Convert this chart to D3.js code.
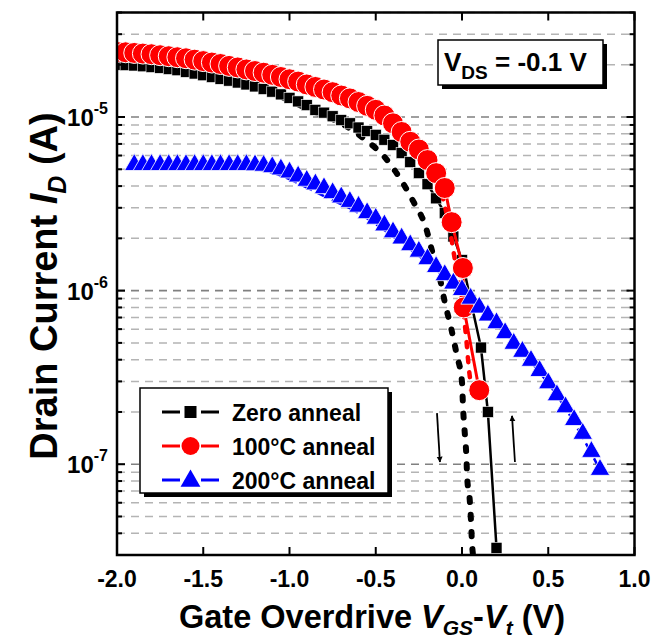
<!DOCTYPE html>
<html><head><meta charset="utf-8">
<script src="https://cdn.jsdelivr.net/npm/d3@7/dist/d3.min.js"></script>
<style>body{margin:0;background:#fff}svg{display:block}text{font-family:"Liberation Sans",Arial,sans-serif;font-weight:bold}</style>
</head><body><svg id="c" width="651" height="640"></svg>
<script>
// ---- data ----
const xTicks = [-2.0, -1.5, -1.0, -0.5, 0.0, 0.5, 1.0];
const xTickLabels = ["-2.0", "-1.5", "-1.0", "-0.5", "0.0", "0.5", "1.0"];
const yMajor = [1e-5, 1e-6, 1e-7];
const yMajorExp = ["-5", "-6", "-7"];

// Zero anneal (squares, forward sweep)
const zeroX = [-2.00,-1.95,-1.90,-1.85,-1.80,-1.75,-1.70,-1.65,-1.60,-1.55,-1.50,-1.45,-1.40,-1.35,-1.30,-1.25,-1.20,-1.15,-1.10,-1.05,-1.00,-0.95,-0.90,-0.85,-0.80,-0.75,-0.70,-0.65,-0.60,-0.55,-0.50,-0.45,-0.40,-0.35,-0.30,-0.25,-0.20,-0.15,-0.10,-0.05,0.00,0.05,0.11,0.15,0.20];
const zeroY = [2.00e-5,1.99e-5,1.98e-5,1.96e-5,1.94e-5,1.92e-5,1.89e-5,1.86e-5,1.82e-5,1.78e-5,1.74e-5,1.70e-5,1.66e-5,1.62e-5,1.58e-5,1.54e-5,1.50e-5,1.45e-5,1.40e-5,1.35e-5,1.29e-5,1.23e-5,1.17e-5,1.10e-5,1.06e-5,1.01e-5,9.6e-6,9.2e-6,8.7e-6,8.3e-6,7.9e-6,7.4e-6,6.9e-6,6.2e-6,5.5e-6,4.75e-6,4.1e-6,3.4e-6,2.8e-6,2.05e-6,1.5e-6,8.8e-7,4.7e-7,2.0e-7,3.3e-8];
// Zero anneal reverse sweep (dashed)
const zeroRevX = [-2.00,-1.50,-1.11,-0.98,-0.835,-0.70,-0.56,-0.45,-0.35,-0.28,-0.21,-0.17,-0.13,-0.10,-0.06,-0.03,0.00,0.006,0.017,0.025,0.030,0.045,0.052,0.058,0.064];
const zeroRevY = [2.0e-5,1.74e-5,1.39e-5,1.22e-5,1.05e-5,9.2e-6,7.4e-6,5.9e-6,4.28e-6,3.23e-6,2.32e-6,1.64e-6,1.2e-6,8.6e-7,5.9e-7,4.25e-7,2.97e-7,2.13e-7,1.47e-7,1.13e-7,8.4e-8,6.2e-8,4.75e-8,3.5e-8,3.0e-8];

// 100C anneal (circles)
const c100X = [-2.00,-1.95,-1.90,-1.85,-1.80,-1.75,-1.70,-1.65,-1.60,-1.55,-1.50,-1.45,-1.40,-1.35,-1.30,-1.25,-1.20,-1.15,-1.10,-1.05,-1.00,-0.95,-0.90,-0.85,-0.80,-0.75,-0.70,-0.65,-0.60,-0.55,-0.50,-0.45,-0.40,-0.35,-0.30,-0.25,-0.20,-0.15,-0.10,-0.06,0.005,0.01,0.10];
const c100Y = [2.37e-5,2.36e-5,2.34e-5,2.32e-5,2.30e-5,2.27e-5,2.24e-5,2.21e-5,2.18e-5,2.14e-5,2.10e-5,2.06e-5,2.02e-5,1.97e-5,1.93e-5,1.88e-5,1.84e-5,1.80e-5,1.75e-5,1.70e-5,1.65e-5,1.60e-5,1.54e-5,1.49e-5,1.44e-5,1.39e-5,1.33e-5,1.28e-5,1.22e-5,1.16e-5,1.10e-5,1.02e-5,9.2e-6,8.2e-6,7.2e-6,6.5e-6,5.65e-6,4.75e-6,3.9e-6,2.48e-6,1.35e-6,8.0e-7,2.67e-7];
const c100RevX = [-2.00,-1.00,-0.50,-0.30,-0.15,-0.07,-0.041,0.00,0.023,0.041,0.052];
const c100RevY = [2.3e-5,1.6e-5,1.07e-5,7.0e-6,4.5e-6,2.23e-6,1.5e-6,8.8e-7,5.5e-7,3.48e-7,2.85e-7];

// 200C anneal (triangles)
const c200X = [-1.90,-1.85,-1.80,-1.75,-1.70,-1.65,-1.60,-1.55,-1.50,-1.45,-1.40,-1.35,-1.30,-1.25,-1.20,-1.15,-1.10,-1.05,-1.00,-0.95,-0.90,-0.85,-0.80,-0.75,-0.70,-0.65,-0.60,-0.55,-0.50,-0.45,-0.40,-0.35,-0.30,-0.25,-0.20,-0.15,-0.10,-0.05,0.00,0.05,0.10,0.15,0.20,0.25,0.30,0.35,0.40,0.45,0.50,0.55,0.60,0.65,0.70,0.75,0.80];
const c200Y = [5.3e-6,5.3e-6,5.3e-6,5.3e-6,5.3e-6,5.3e-6,5.3e-6,5.3e-6,5.3e-6,5.3e-6,5.3e-6,5.3e-6,5.3e-6,5.3e-6,5.28e-6,5.25e-6,5.15e-6,5.0e-6,4.8e-6,4.55e-6,4.3e-6,4.1e-6,3.9e-6,3.65e-6,3.45e-6,3.25e-6,3.05e-6,2.8e-6,2.6e-6,2.38e-6,2.17e-6,2.0e-6,1.83e-6,1.68e-6,1.52e-6,1.37e-6,1.23e-6,1.1e-6,1.01e-6,9.0e-7,8.0e-7,7.2e-7,6.5e-7,5.7e-7,4.95e-7,4.45e-7,3.95e-7,3.45e-7,2.93e-7,2.5e-7,2.13e-7,1.8e-7,1.5e-7,1.18e-7,9.3e-8];
const c200RevX = [-1.90,-1.20,-1.05,-0.95,-0.80,-0.60,-0.40,-0.20,0.00,0.20,0.40,0.60,0.80];
const c200RevY = [5.3e-6,5.0e-6,4.6e-6,4.15e-6,3.5e-6,2.8e-6,2.05e-6,1.45e-6,9.8e-7,6.4e-7,3.9e-7,2.1e-7,9.3e-8];

const legendNames = ["Zero anneal", "100°C anneal", "200°C anneal"];
const colors = ["#000000", "#ff0000", "#0000ff"];
// sweep-direction arrows [x1,y1,x2,y2] in data units
const arrowsData = [[-0.145, 1.97e-7, -0.128, 1.03e-7], [0.307, 1.03e-7, 0.29, 1.9e-7]];

// ---- chart ----
const svg = d3.select("#c");
const L = 117, R = 634.5, T = 12.5, B = 555;
const x = d3.scaleLinear().domain([-2, 1]).range([L, R]);
const y = d3.scaleLog().domain([3e-8, 4e-5]).range([B, T]);

const minors = [];
for (let e = -8; e <= -5; e++) for (let m = 2; m <= 9; m++) { const v = m * Math.pow(10, e); if (v >= 3e-8 && v <= 4e-5) minors.push(v); }

// gridlines
const grid = svg.append("g");
grid.selectAll("line.mi").data(minors).join("line")
  .attr("x1", L).attr("x2", R).attr("y1", d => y(d)).attr("y2", d => y(d))
  .attr("stroke", "#b4b4b4").attr("stroke-width", 1.5).attr("stroke-dasharray", "8,6");
grid.selectAll("line.ma").data(yMajor).join("line")
  .attr("x1", L).attr("x2", R).attr("y1", d => y(d)).attr("y2", d => y(d))
  .attr("stroke", "#808080").attr("stroke-width", 1.6).attr("stroke-dasharray", "8,6");

const defs = svg.append("defs");
defs.append("clipPath").attr("id", "clip").append("rect").attr("x", L).attr("y", T).attr("width", R - L).attr("height", B - T);
defs.append("marker").attr("id", "ah").attr("viewBox", "0 0 10 10").attr("refX", 9).attr("refY", 5)
  .attr("markerWidth", 6).attr("markerHeight", 8).attr("orient", "auto").attr("markerUnits", "userSpaceOnUse")
  .append("path").attr("d", "M0,0 L10,5 L0,10 z").attr("fill", "#000");

const plot = svg.append("g").attr("clip-path", "url(#clip)");
const line = d3.line().x(d => x(d[0])).y(d => y(d[1])).curve(d3.curveMonotoneX);
const zip = (a, b) => a.map((v, i) => [v, b[i]]);

// Zero anneal
plot.append("path").attr("d", line(zip(zeroRevX, zeroRevY))).attr("fill", "none")
  .attr("stroke", "#000").attr("stroke-width", 6).attr("stroke-dasharray", "4,13").attr("stroke-linecap", "round");
plot.append("path").attr("d", d3.line().x(d => x(d[0])).y(d => y(d[1]))(zip(zeroX, zeroY))).attr("fill", "none")
  .attr("stroke", "#000").attr("stroke-width", 2.5);
plot.selectAll("rect.sq").data(zip(zeroX, zeroY)).join("rect")
  .attr("x", d => x(d[0]) - 5.5).attr("y", d => y(d[1]) - 5.5).attr("width", 11).attr("height", 11)
  .attr("fill", "#000").attr("stroke", "#fff").attr("stroke-width", 0.6);

// 100C
plot.append("path").attr("d", line(zip(c100RevX, c100RevY))).attr("fill", "none")
  .attr("stroke", "#f00").attr("stroke-width", 4.5).attr("stroke-dasharray", "5,10").attr("stroke-linecap", "round");
plot.append("path").attr("d", d3.line().x(d => x(d[0])).y(d => y(d[1]))(zip(c100X, c100Y))).attr("fill", "none")
  .attr("stroke", "#f00").attr("stroke-width", 3);
plot.selectAll("circle.ci").data(zip(c100X, c100Y)).join("circle")
  .attr("cx", d => x(d[0])).attr("cy", d => y(d[1])).attr("r", 10.5)
  .attr("fill", "#f00").attr("stroke", "#fff").attr("stroke-width", 1);

// 200C
plot.append("path").attr("d", line(zip(c200RevX, c200RevY))).attr("fill", "none")
  .attr("stroke", "#00f").attr("stroke-width", 2.5).attr("stroke-dasharray", "12,5");
const tri = d3.symbol().type(d3.symbolTriangle).size(165);
plot.selectAll("path.tr").data(zip(c200X, c200Y)).join("path")
  .attr("d", tri).attr("transform", d => `translate(${x(d[0])},${y(d[1])})`)
  .attr("fill", "#00f").attr("stroke", "#fff").attr("stroke-width", 0.8);

// arrows
svg.selectAll("line.arr").data(arrowsData).join("line")
  .attr("x1", d => x(d[0])).attr("y1", d => y(d[1])).attr("x2", d => x(d[2])).attr("y2", d => y(d[3]))
  .attr("stroke", "#000").attr("stroke-width", 1.8).attr("marker-end", "url(#ah)");

// frame
svg.append("rect").attr("x", L).attr("y", T).attr("width", R - L).attr("height", B - T)
  .attr("fill", "none").attr("stroke", "#000").attr("stroke-width", 2.5);

// ticks
const tk = svg.append("g").attr("stroke", "#000").attr("stroke-width", 2);
xTicks.forEach(v => {
  tk.append("line").attr("x1", x(v)).attr("x2", x(v)).attr("y1", B).attr("y2", B - 8);
  tk.append("line").attr("x1", x(v)).attr("x2", x(v)).attr("y1", T).attr("y2", T + 8);
});
yMajor.forEach(v => {
  tk.append("line").attr("x1", L).attr("x2", L + 8).attr("y1", y(v)).attr("y2", y(v));
  tk.append("line").attr("x1", R).attr("x2", R - 8).attr("y1", y(v)).attr("y2", y(v));
});
minors.forEach(v => {
  tk.append("line").attr("x1", L).attr("x2", L + 5).attr("y1", y(v)).attr("y2", y(v));
  tk.append("line").attr("x1", R).attr("x2", R - 5).attr("y1", y(v)).attr("y2", y(v));
});

// tick labels
svg.selectAll("text.xt").data(xTicks).join("text")
  .attr("x", d => x(d)).attr("y", 587).attr("text-anchor", "middle").attr("font-size", 23)
  .text((d, i) => xTickLabels[i]);
yMajor.forEach((v, i) => {
  const t = svg.append("text").attr("x", 108).attr("y", y(v) + 9).attr("text-anchor", "end").attr("font-size", 24);
  t.append("tspan").text("10");
  t.append("tspan").attr("dy", -12).attr("font-size", 16).text(yMajorExp[i]);
});

// axis titles
const xt = svg.append("text").attr("x", 372).attr("y", 628).attr("text-anchor", "middle").attr("font-size", 32.5);
xt.append("tspan").text("Gate Overdrive ");
xt.append("tspan").attr("font-style", "italic").text("V");
xt.append("tspan").attr("font-style", "italic").attr("font-size", 21).attr("dy", 7).text("GS");
xt.append("tspan").attr("dy", -7).text("-");
xt.append("tspan").attr("font-style", "italic").text("V");
xt.append("tspan").attr("font-style", "italic").attr("font-size", 21).attr("dy", 7).text("t");
xt.append("tspan").attr("dy", -7).text(" (V)");

const yt = svg.append("text").attr("transform", "translate(57,286) rotate(-90)").attr("text-anchor", "middle").attr("font-size", 38);
yt.append("tspan").text("Drain Current ");
yt.append("tspan").attr("font-style", "italic").text("I");
yt.append("tspan").attr("font-style", "italic").attr("font-size", 25).attr("dy", 9).text("D");
yt.append("tspan").attr("dy", -9).text(" (A)");

// VDS box
svg.append("rect").attr("x", 442).attr("y", 44).attr("width", 165).attr("height", 45).attr("fill", "#000");
svg.append("rect").attr("x", 438).attr("y", 40).attr("width", 165).attr("height", 45).attr("fill", "#fff").attr("stroke", "#000").attr("stroke-width", 1.5);
const vt = svg.append("text").attr("x", 444).attr("y", 71).attr("font-size", 26);
vt.append("tspan").text("V");
vt.append("tspan").attr("font-size", 19).attr("dy", 8).text("DS");
vt.append("tspan").attr("dy", -8).text(" = -0.1 V");

// legend
const lg = svg.append("g");
lg.append("rect").attr("x", 144).attr("y", 392).attr("width", 248).attr("height", 105).attr("fill", "#000");
lg.append("rect").attr("x", 140).attr("y", 388).attr("width", 248).attr("height", 105).attr("fill", "#fff").attr("stroke", "#000").attr("stroke-width", 1.5);
const ly = [412, 446, 480];
legendNames.forEach((n, i) => {
  const g = lg.append("g");
  g.append("line").attr("x1", 162).attr("x2", 180).attr("y1", ly[i]).attr("y2", ly[i]).attr("stroke", colors[i]).attr("stroke-width", 3);
  g.append("line").attr("x1", 201).attr("x2", 219).attr("y1", ly[i]).attr("y2", ly[i]).attr("stroke", colors[i]).attr("stroke-width", 3);
  if (i === 0) g.append("rect").attr("x", 184.5).attr("y", ly[i] - 6).attr("width", 12).attr("height", 12).attr("fill", colors[i]);
  if (i === 1) g.append("circle").attr("cx", 190.5).attr("cy", ly[i]).attr("r", 9).attr("fill", colors[i]);
  if (i === 2) g.append("path").attr("d", d3.symbol().type(d3.symbolTriangle).size(170)).attr("transform", `translate(190.5,${ly[i] + 1})`).attr("fill", colors[i]);
  g.append("text").attr("x", 232).attr("y", ly[i] + 8.5).attr("font-size", 23).text(n);
});
</script></body></html>
